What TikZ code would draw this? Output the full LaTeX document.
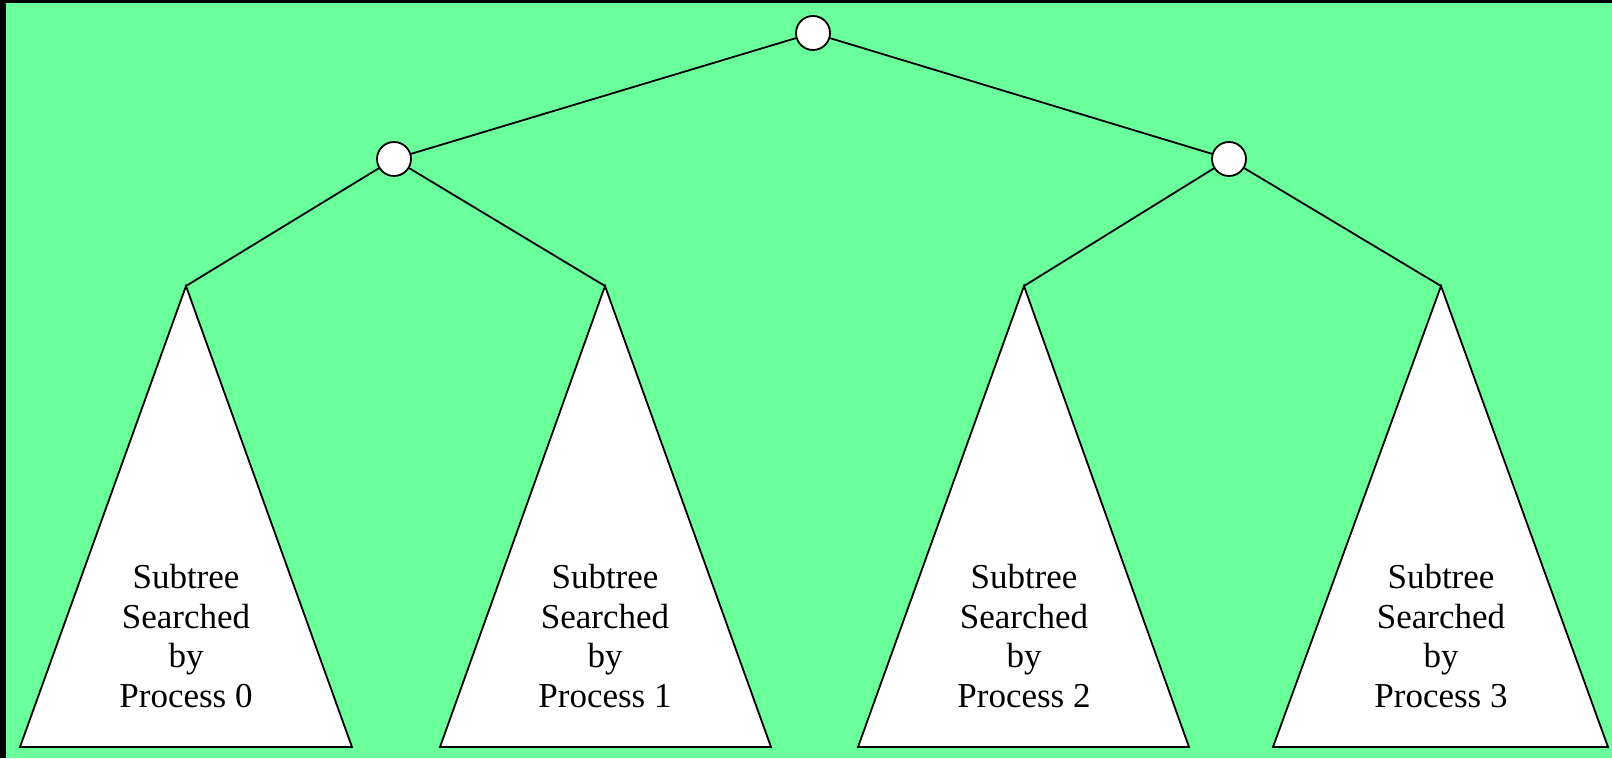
\documentclass[tikz,border=0pt]{standalone}
\usepackage{fontspec}
\setmainfont{Liberation Serif}
\definecolor{bggreen}{HTML}{6BFF9B}
\begin{document}
\begin{tikzpicture}[x=1pt,y=1pt,
  treenode/.style={circle,draw=black,fill=white,line width=1.8pt,minimum size=34pt,inner sep=0pt},
  edge/.style={draw=black,line width=1.8pt},
  subtree/.style={draw=black,fill=white,line width=1.8pt,line join=miter},
  label/.style={align=center,font=\fontsize{35}{39.5}\selectfont}]
  % page frame: dark strips on top and left, green field
  \fill[black] (0,0) rectangle (1612,758);
  \fill[bggreen] (6,0) rectangle (1612,755);
  \useasboundingbox (0,0) rectangle (1612,758);

  % internal nodes
  \node[treenode] (root) at (813,725) {};
  \node[treenode] (left) at (394,599) {};
  \node[treenode] (right) at (1229,599) {};

  % apexes of the subtrees
  \coordinate (a0) at (186,472);
  \coordinate (a1) at (605,472);
  \coordinate (a2) at (1024,472);
  \coordinate (a3) at (1441,472);

  % subtree triangles
  \draw[subtree] (a0) -- (20,11) -- (352,11) -- cycle;
  \draw[subtree] (a1) -- (440,11) -- (771,11) -- cycle;
  \draw[subtree] (a2) -- (858,11) -- (1189,11) -- cycle;
  \draw[subtree] (a3) -- (1273,11) -- (1608,11) -- cycle;

  % edges
  \draw[edge] (root) -- (left);
  \draw[edge] (root) -- (right);
  \draw[edge] (left) -- (a0);
  \draw[edge] (left) -- (a1);
  \draw[edge] (right) -- (a2);
  \draw[edge] (right) -- (a3);

  % labels
  \node[label] (t0) at (186,122) {Subtree\\Searched\\by\\Process 0};
  \node[label] (t1) at (605,122) {Subtree\\Searched\\by\\Process 1};
  \node[label] (t2) at (1024,122) {Subtree\\Searched\\by\\Process 2};
  \node[label] (t3) at (1441,122) {Subtree\\Searched\\by\\Process 3};
\end{tikzpicture}
\end{document}
